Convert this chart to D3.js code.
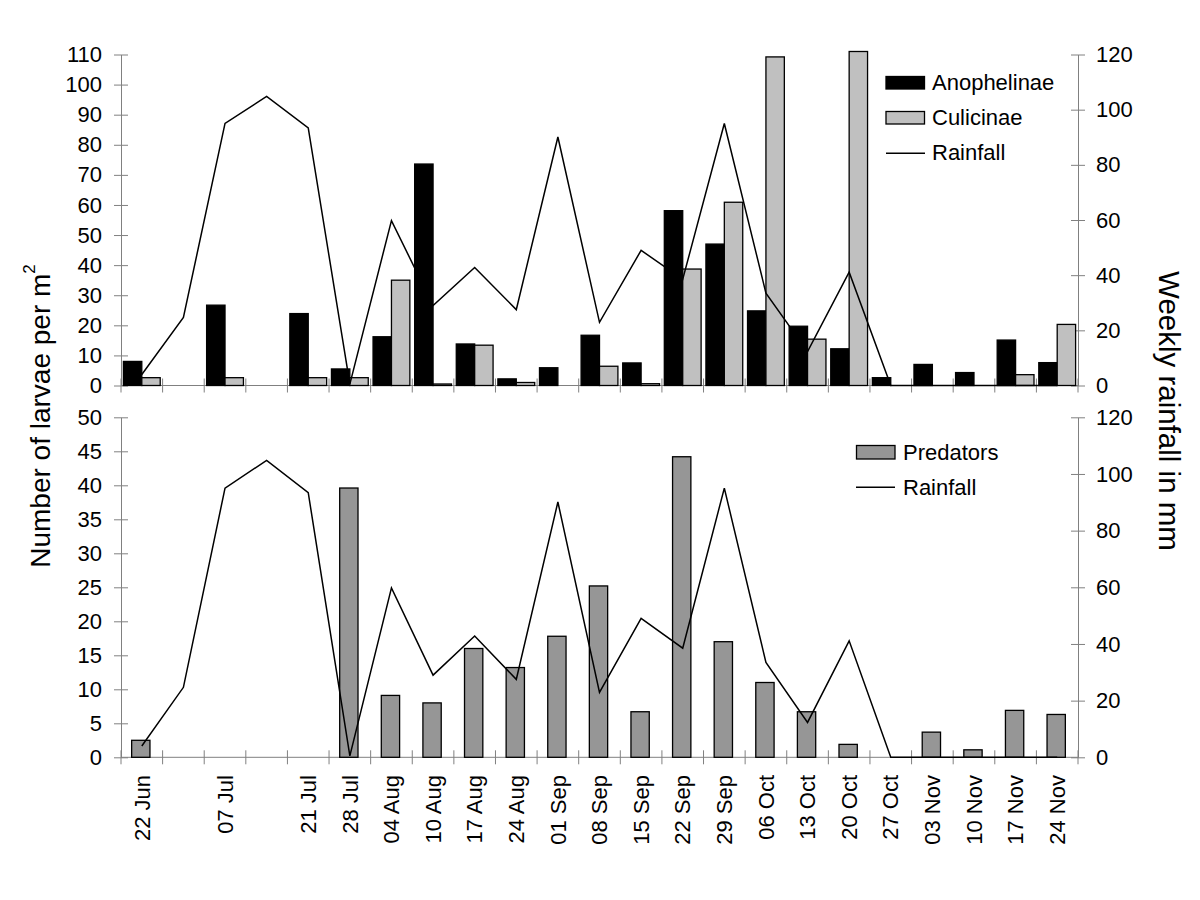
<!DOCTYPE html>
<html>
<head>
<meta charset="utf-8">
<script src="https://cdn.jsdelivr.net/npm/d3@7"></script>
<style>
  body { margin: 0; background: #fff; }
  svg { display: block; font-family: Arial, "Liberation Sans", sans-serif; }
</style>
</head>
<body>
<svg id="chart" width="1200" height="900"></svg>
<script>
// ---- data ----
const weeks = ["22 Jun","29 Jun","07 Jul","14 Jul","21 Jul","28 Jul","04 Aug","10 Aug","17 Aug","24 Aug",
  "01 Sep","08 Sep","15 Sep","22 Sep","29 Sep","06 Oct","13 Oct","20 Oct","27 Oct","03 Nov","10 Nov","17 Nov","24 Nov"];
const tickLabels = ["22 Jun","07 Jul","21 Jul","28 Jul","04 Aug","10 Aug","17 Aug","24 Aug","01 Sep","08 Sep",
  "15 Sep","22 Sep","29 Sep","06 Oct","13 Oct","20 Oct","27 Oct","03 Nov","10 Nov","17 Nov","24 Nov"];
const anophelinae = [8, null, 26.7, null, 23.9, 5.5, 16.2, 73.6, 13.8, 2.2, 5.9, 16.7, 7.5, 58.1, 47, 24.8, 19.7, 12.2, 2.6, 7.0, 4.3, 15.1, 7.6];
const culicinae   = [2.6, null, 2.6, null, 2.6, 2.6, 35, 0.5, 13.4, 1, null, 6.4, 0.6, 38.7, 60.9, 109.2, 15.4, 111, null, null, null, 3.6, 20.3];
const rainfall    = [4, 24.7, 95, 104.8, 93.4, 0.5, 59.8, 29, 42.8, 27.5, 90.1, 22.9, 49, 38.5, 95, 33.5, 12.3, 41.1, 0, 0, 0, 0, 0];
const predators   = [2.5, null, null, null, null, 39.6, 9.1, 8.0, 16.0, 13.2, 17.8, 25.2, 6.7, 44.2, 17, 11.0, 6.7, 1.9, null, 3.7, 1.1, 6.9, 6.3];
const topTicks = d3.range(0, 111, 10);
const bottomTicks = d3.range(0, 51, 5);
const rainTicks = d3.range(0, 121, 20);

// ---- layout ----
const svg = d3.select("#chart");
const X0 = 121, X1 = 1078;
const axisColor = "#808080";
const x = d3.scaleBand().domain(weeks).range([X0, X1]).padding(0);
const bw = x.bandwidth();

const yTop = d3.scaleLinear().domain([0, 110]).range([385.5, 54.5]);
const rTop = d3.scaleLinear().domain([0, 120]).range([385.5, 54.5]);
const yBot = d3.scaleLinear().domain([0, 50]).range([757.3, 417.3]);
const rBot = d3.scaleLinear().domain([0, 120]).range([757.3, 417.3]);

const sub = d3.scaleBand().domain(["A", "C"]).range([2.4, bw - 2.4]).padding(0);

function styleAxis(g, x1) {
  g.attr("font-family", null);
  g.selectAll(".tick line").attr("stroke", axisColor).attr("x1", x1);
  g.select(".domain").attr("stroke", axisColor);
  g.selectAll(".tick text").attr("fill", "#000").attr("font-size", 22);
}

function drawPanel(yL, yR, ticksL, bottom) {
  const gl = svg.append("g").attr("transform", `translate(${X0},0)`)
    .call(d3.axisLeft(yL).tickValues(ticksL).tickSize(7).tickSizeOuter(0).tickPadding(12));
  styleAxis(gl, 7);
  const gr = svg.append("g").attr("transform", `translate(${X1},0)`)
    .call(d3.axisRight(yR).tickValues(rainTicks).tickSize(7).tickSizeOuter(0).tickPadding(11));
  styleAxis(gr, -7);
  const gx = svg.append("g");
  gx.append("line").attr("x1", X0).attr("x2", X1).attr("y1", bottom).attr("y2", bottom)
    .attr("stroke", axisColor);
  const bounds = weeks.map(d => x(d)).concat([X1]);
  gx.selectAll("line.bt").data(bounds).join("line").attr("class", "bt")
    .attr("x1", d => d).attr("x2", d => d).attr("y1", bottom - 7).attr("y2", bottom + 7)
    .attr("stroke", axisColor);
}

drawPanel(yTop, rTop, topTicks, 385.5);
drawPanel(yBot, rBot, bottomTicks, 757.3);

// ---- top bars ----
const gTop = svg.append("g");
gTop.selectAll("rect.an").data(weeks.map((w, i) => ({w, v: anophelinae[i]})).filter(d => d.v != null))
  .join("rect").attr("class", "an")
  .attr("x", d => x(d.w) + sub("A")).attr("width", sub.bandwidth())
  .attr("y", d => yTop(d.v)).attr("height", d => yTop(0) - yTop(d.v))
  .attr("fill", "#000").attr("stroke", "#000").attr("stroke-width", 1.3);
gTop.selectAll("rect.cu").data(weeks.map((w, i) => ({w, v: culicinae[i]})).filter(d => d.v != null))
  .join("rect").attr("class", "cu")
  .attr("x", d => x(d.w) + sub("C")).attr("width", sub.bandwidth())
  .attr("y", d => yTop(d.v)).attr("height", d => yTop(0) - yTop(d.v))
  .attr("fill", "#c0c0c0").attr("stroke", "#000").attr("stroke-width", 1.3);

// ---- bottom bars ----
const pw = bw * 0.44;
svg.append("g").selectAll("rect.pr").data(weeks.map((w, i) => ({w, v: predators[i]})).filter(d => d.v != null))
  .join("rect").attr("class", "pr")
  .attr("x", d => x(d.w) + bw / 2 - pw / 2 - 1).attr("width", pw)
  .attr("y", d => yBot(d.v)).attr("height", d => yBot(0) - yBot(d.v))
  .attr("fill", "#969696").attr("stroke", "#000").attr("stroke-width", 1.3);

// ---- rainfall lines ----
function rainLine(r) {
  return d3.line().x((d, i) => x(weeks[i]) + bw / 2).y(d => r(d))(rainfall);
}
svg.append("path").attr("d", rainLine(rTop)).attr("fill", "none").attr("stroke", "#000").attr("stroke-width", 1.5);
svg.append("path").attr("d", rainLine(rBot)).attr("fill", "none").attr("stroke", "#000").attr("stroke-width", 1.5);

// ---- x tick labels ----
svg.append("g").selectAll("text.xl").data(weeks).join("text").attr("class", "xl")
  .attr("transform", d => `translate(${x(d) + bw / 2},775) rotate(-90)`)
  .attr("dy", "0.35em").attr("text-anchor", "end").attr("font-size", 22).attr("fill", "#000")
  .text(d => tickLabels.includes(d) ? d : "");

// ---- axis titles ----
const lt = svg.append("text").attr("transform", "translate(50,416) rotate(-90)")
  .attr("text-anchor", "middle").attr("font-size", 28).attr("fill", "#000");
lt.append("tspan").text("Number of larvae per m");
lt.append("tspan").attr("font-size", 17).attr("dy", "-0.9em").text("2");
svg.append("text").attr("transform", "translate(1159,411) rotate(90)")
  .attr("text-anchor", "middle").attr("font-size", 29.5).attr("fill", "#000")
  .text("Weekly rainfall in mm");

// ---- legends ----
const lg1 = svg.append("g");
lg1.append("rect").attr("x", 886).attr("y", 76.5).attr("width", 38.5).attr("height", 12.5)
  .attr("fill", "#000").attr("stroke", "#000").attr("stroke-width", 1.3);
lg1.append("text").attr("x", 932).attr("y", 90).attr("font-size", 22).text("Anophelinae");
lg1.append("rect").attr("x", 886).attr("y", 111.5).attr("width", 38.5).attr("height", 12.5)
  .attr("fill", "#c0c0c0").attr("stroke", "#000").attr("stroke-width", 1.3);
lg1.append("text").attr("x", 932).attr("y", 125).attr("font-size", 22).text("Culicinae");
lg1.append("line").attr("x1", 886).attr("x2", 925).attr("y1", 153.3).attr("y2", 153.3)
  .attr("stroke", "#000").attr("stroke-width", 1.5);
lg1.append("text").attr("x", 932).attr("y", 159.5).attr("font-size", 22).text("Rainfall");

const lg2 = svg.append("g");
lg2.append("rect").attr("x", 856.5).attr("y", 445.5).attr("width", 38.5).attr("height", 13.5)
  .attr("fill", "#969696").attr("stroke", "#000").attr("stroke-width", 1.3);
lg2.append("text").attr("x", 903).attr("y", 459.5).attr("font-size", 22).text("Predators");
lg2.append("line").attr("x1", 856).attr("x2", 895).attr("y1", 487.3).attr("y2", 487.3)
  .attr("stroke", "#000").attr("stroke-width", 1.5);
lg2.append("text").attr("x", 903).attr("y", 495).attr("font-size", 22).text("Rainfall");
</script>
</body>
</html>
